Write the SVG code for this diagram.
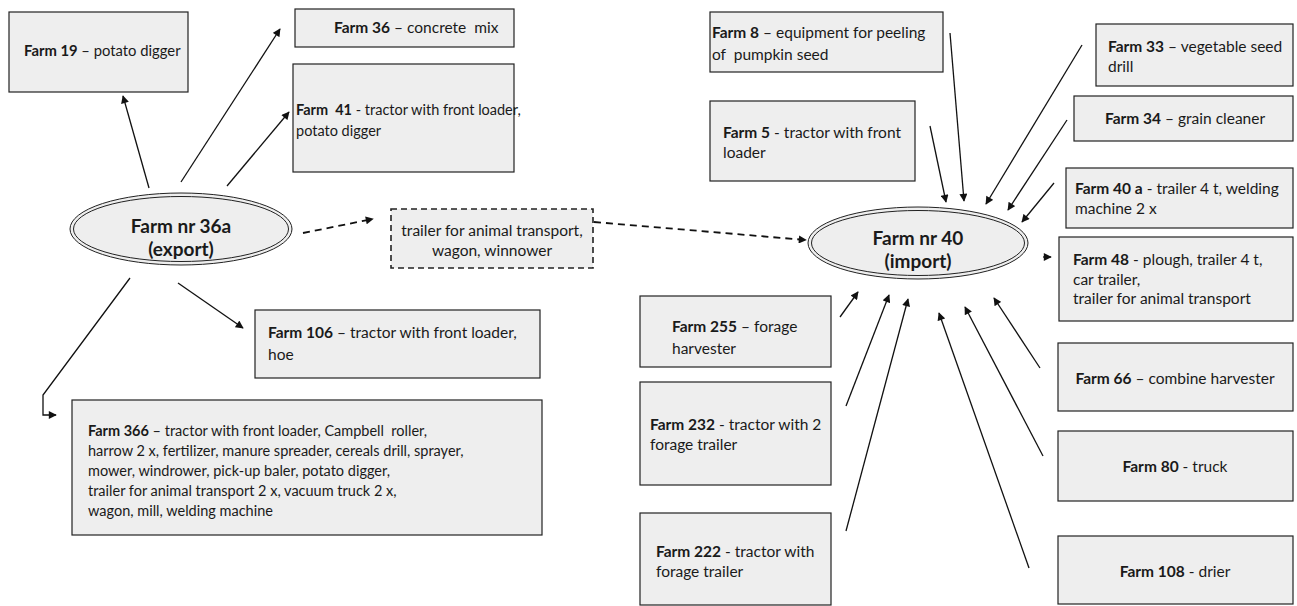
<svg xmlns="http://www.w3.org/2000/svg" width="1297" height="606" viewBox="0 0 1297 606">
<style>
text{font-family:Lato,"Open Sans","Liberation Sans",sans-serif;font-size:15.5px;fill:#1a1a1a;white-space:pre}
.s{font-size:14.5px}
.b{font-weight:bold}
.c{text-anchor:middle}
.box{fill:#eeeeee;stroke:#222;stroke-width:1.2}
.dbox{fill:#eeeeee;stroke:#222;stroke-width:1.6;stroke-dasharray:6 4}
.ell{fill:#eeeeee;stroke:#222;stroke-width:1}
.big{font-size:19px;font-weight:bold}
.ln{stroke:#111;stroke-width:1.3;fill:none;marker-end:url(#ah)}
.dl{stroke:#111;stroke-width:1.8;fill:none;stroke-dasharray:7 5;marker-end:url(#ah)}
</style>
<defs>
<marker id="ah" viewBox="0 0 10 10" refX="9" refY="5" markerWidth="9" markerHeight="8" markerUnits="userSpaceOnUse" orient="auto"><path d="M0,0 L10,5 L0,10 z" fill="#111"/></marker>
</defs>
<rect width="1297" height="606" fill="#fff"/>

<g id="connectors">
<line class="ln" x1="149" y1="188" x2="123" y2="96"/>
<line class="ln" x1="181" y1="182" x2="280" y2="29"/>
<line class="ln" x1="227" y1="186" x2="289" y2="112"/>
<line class="ln" x1="178" y1="283" x2="243" y2="328"/>
<polyline class="ln" points="130,278 43,395 43,415 56,415"/>
<line class="dl" x1="303" y1="233" x2="373" y2="219"/>
<line class="dl" x1="594" y1="222" x2="806" y2="240"/>
<line class="ln" x1="930" y1="126" x2="946" y2="202"/>
<line class="ln" x1="950" y1="33" x2="964" y2="201"/>
<line class="ln" x1="1082" y1="45" x2="986" y2="204"/>
<line class="ln" x1="1067" y1="120" x2="1008" y2="210"/>
<line class="ln" x1="1054" y1="183" x2="1022" y2="222"/>
<line class="ln" x1="1043" y1="257" x2="1051" y2="257"/>
<line class="ln" x1="840" y1="317" x2="858" y2="292"/>
<line class="ln" x1="846" y1="406" x2="889" y2="295"/>
<line class="ln" x1="846" y1="531" x2="908" y2="299"/>
<line class="ln" x1="1029" y1="568" x2="939" y2="313"/>
<line class="ln" x1="1043" y1="456" x2="965" y2="307"/>
<line class="ln" x1="1040" y1="368" x2="994" y2="298"/>
</g>

<g id="farm36a">
<ellipse class="ell" cx="181" cy="229" rx="111" ry="36"/>
<ellipse class="ell" cx="181" cy="229" rx="107.5" ry="32.5"/>
<text class="c big" x="181" y="233">Farm nr 36a</text>
<text class="c big" x="181" y="256">(export)</text>
</g>
<g id="farm40">
<ellipse class="ell" cx="918" cy="243" rx="110" ry="36"/>
<ellipse class="ell" cx="918" cy="243" rx="106.5" ry="32.5"/>
<text class="c big" x="918" y="245">Farm nr 40</text>
<text class="c big" x="918" y="268">(import)</text>
</g>

<g id="farm19"><rect class="box" x="9" y="12" width="179" height="80"/><text x="24" y="56" style="font-size:14.8px"><tspan class="b">Farm 19</tspan> – potato digger</text></g>
<g id="farm36"><rect class="box" x="295" y="9" width="219" height="38"/><text x="334" y="33"><tspan class="b">Farm 36</tspan> – concrete  mix</text></g>
<g id="farm41"><rect class="box" x="293" y="64" width="221" height="108"/><text class="s" x="296" y="115"><tspan class="b">Farm  41</tspan> - tractor with front loader,</text><text class="s" x="296" y="136">potato digger</text></g>
<g id="transfer"><rect class="dbox" x="391" y="209" width="202" height="59"/><text class="c" x="492" y="236">trailer for animal transport,</text><text class="c" x="492" y="256">wagon, winnower</text></g>
<g id="farm106"><rect class="box" x="255" y="310" width="285" height="68"/><text x="268" y="338"><tspan class="b">Farm 106</tspan> – tractor with front loader,</text><text x="268" y="360">hoe</text></g>
<g id="farm366"><rect class="box" x="72" y="400" width="470" height="135"/>
<text class="s" x="88" y="436"><tspan class="b">Farm 366</tspan> – tractor with front loader, Campbell  roller,</text>
<text class="s" x="88" y="456">harrow 2 x, fertilizer, manure spreader, cereals drill, sprayer,</text>
<text class="s" x="88" y="476">mower, windrower, pick-up baler, potato digger,</text>
<text class="s" x="88" y="496">trailer for animal transport 2 x, vacuum truck 2 x,</text>
<text class="s" x="88" y="516">wagon, mill, welding machine</text></g>

<g id="farm8"><rect class="box" x="710" y="12" width="233" height="60"/><text x="712" y="38"><tspan class="b">Farm 8</tspan> – equipment for peeling</text><text x="712" y="60">of  pumpkin seed</text></g>
<g id="farm5"><rect class="box" x="710" y="101" width="205" height="80"/><text x="723" y="138"><tspan class="b">Farm 5</tspan> - tractor with front</text><text x="723" y="158">loader</text></g>
<g id="farm33"><rect class="box" x="1096" y="24" width="197" height="62"/><text x="1108" y="52"><tspan class="b">Farm 33</tspan> – vegetable seed</text><text x="1108" y="72">drill</text></g>
<g id="farm34"><rect class="box" x="1074" y="96" width="219" height="45"/><text x="1105" y="124"><tspan class="b">Farm 34</tspan> – grain cleaner</text></g>
<g id="farm40a"><rect class="box" x="1066" y="168" width="227" height="60"/><text x="1075" y="194"><tspan class="b">Farm 40 a</tspan> - trailer 4 t, welding</text><text x="1075" y="214">machine 2 x</text></g>
<g id="farm48"><rect class="box" x="1059" y="237" width="234" height="84"/><text x="1073" y="265"><tspan class="b">Farm 48</tspan> - plough, trailer 4 t,</text><text x="1073" y="285">car trailer,</text><text x="1073" y="304">trailer for animal transport</text></g>
<g id="farm66"><rect class="box" x="1058" y="343" width="235" height="68"/><text class="c" x="1175" y="384"><tspan class="b">Farm 66</tspan> – combine harvester</text></g>
<g id="farm80"><rect class="box" x="1058" y="431" width="235" height="70"/><text class="c" x="1175" y="472"><tspan class="b">Farm 80</tspan> - truck</text></g>
<g id="farm108"><rect class="box" x="1058" y="536" width="235" height="68"/><text class="c" x="1175" y="577"><tspan class="b">Farm 108</tspan> - drier</text></g>
<g id="farm255"><rect class="box" x="640" y="296" width="191" height="71"/><text x="672" y="332"><tspan class="b">Farm 255</tspan> – forage</text><text x="672" y="354">harvester</text></g>
<g id="farm232"><rect class="box" x="640" y="382" width="191" height="103"/><text x="650" y="430"><tspan class="b">Farm 232</tspan> - tractor with 2</text><text x="650" y="450">forage trailer</text></g>
<g id="farm222"><rect class="box" x="640" y="513" width="191" height="92"/><text x="656" y="557"><tspan class="b">Farm 222</tspan> - tractor with</text><text x="656" y="577">forage trailer</text></g>
</svg>
